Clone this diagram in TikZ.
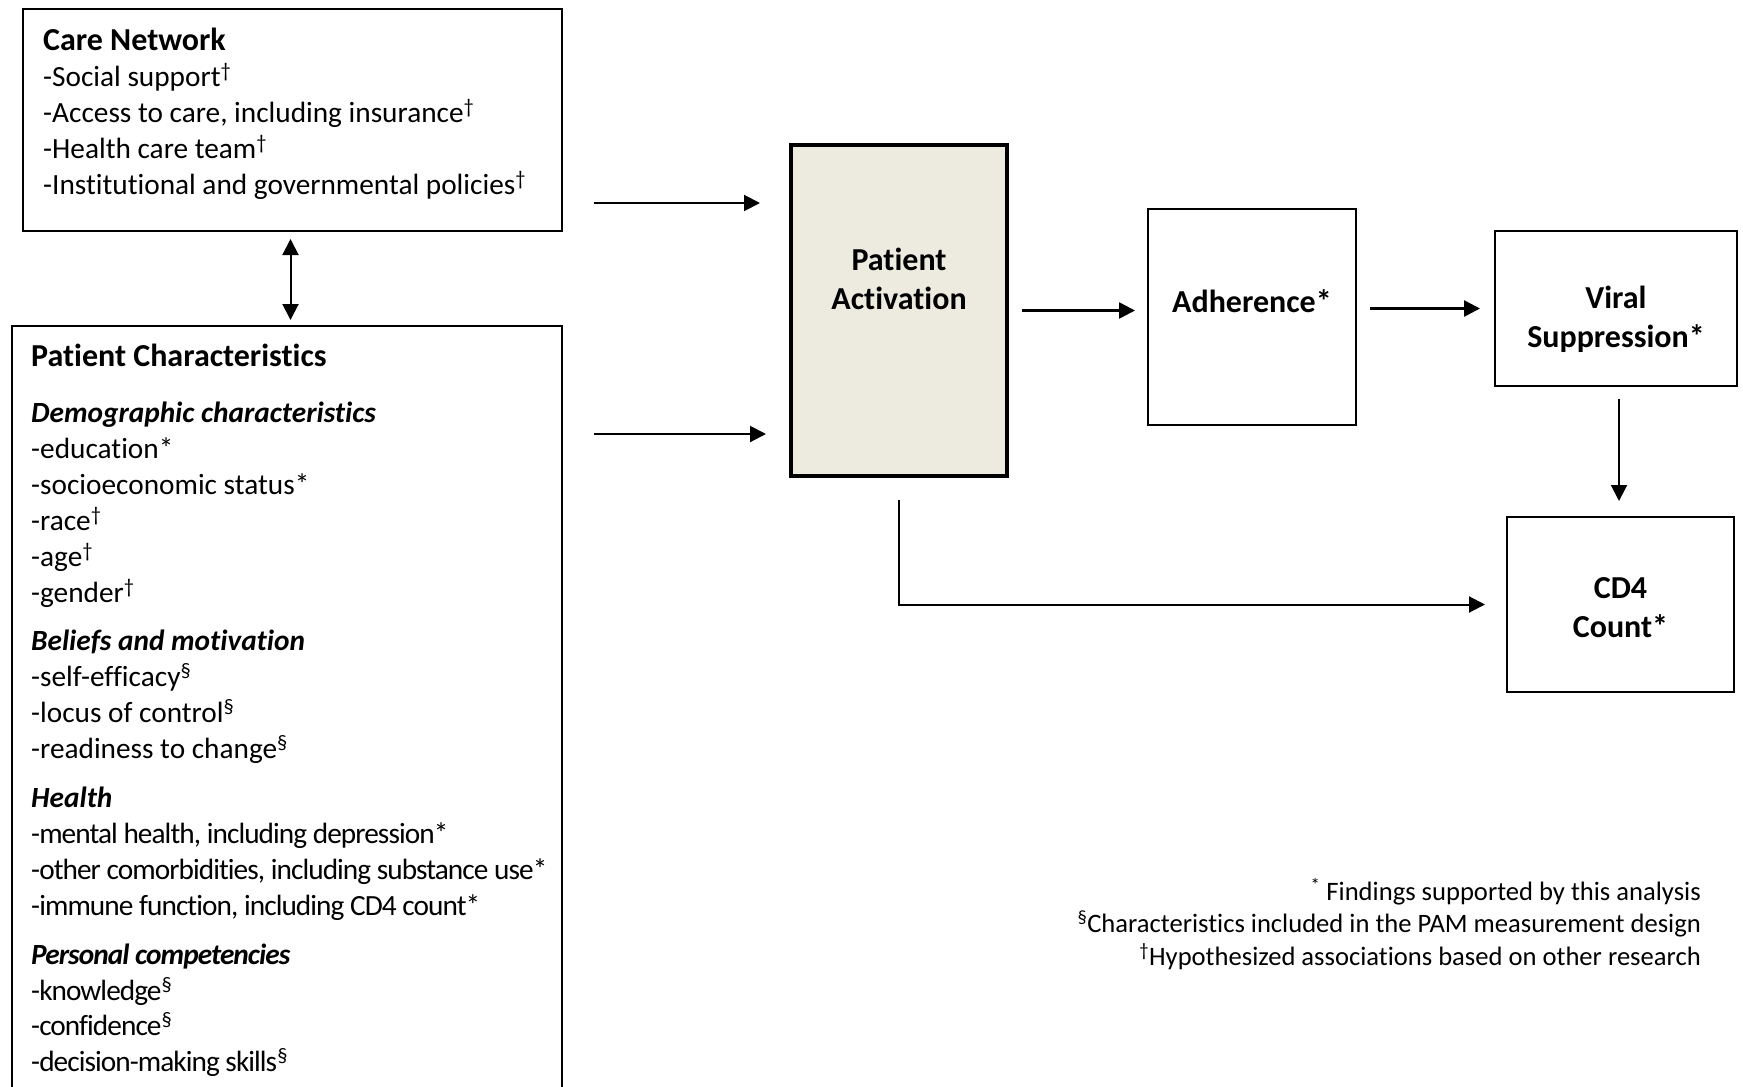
\documentclass[tikz,border=0pt]{standalone}
\usepackage{fontspec}
\setmainfont{Carlito}[Ligatures=NoCommon]
\usepackage{tikz}
\usetikzlibrary{positioning,arrows.meta,calc}
\definecolor{actfill}{HTML}{EDEBE0}
\newcommand\supdg{\textsuperscript{†}}
\newcommand\supsc{\textsuperscript{§}}
\newcommand\subhd[1]{\textbf{\textit{#1}}}
\newcommand\tight[1]{{\addfontfeature{LetterSpace=-3.2}#1}}

\begin{document}
\begin{tikzpicture}[x=1pt, y=-1pt,
  box/.style={draw, line width=2pt, inner sep=0pt, anchor=north west},
  actbox/.style={box, line width=4pt, fill=actfill},
  ttl/.style={font=\fontsize{32}{39}\selectfont\bfseries, align=center, inner sep=0pt},
  lst/.style={font=\fontsize{29.3}{35.9}\selectfont, align=left, anchor=north west, inner sep=0pt},
  note/.style={font=\fontsize{26.6}{32.5}\selectfont, align=right, anchor=east, inner sep=0pt},
  arr/.style={-{Triangle[length=16pt,width=16pt]}, line width=2pt},
  dbl/.style={{Triangle[length=16pt,width=16pt]}-{Triangle[length=16pt,width=16pt]}, line width=2pt}]
\fill[white] (0,0) rectangle (1743,1087);
\useasboundingbox (0,0) rectangle (1743,1087);
% boxes
\node[box, minimum width=539pt, minimum height=222pt] (care) at (22,8) {};
\node[box, minimum width=550pt, minimum height=820pt] (pc) at (11,325) {};
\node[actbox, minimum width=216pt, minimum height=331pt] (pa) at (789,143) {};
\node[box, minimum width=208pt, minimum height=216pt] (adh) at (1147,208) {};
\node[box, minimum width=242pt, minimum height=155pt] (viral) at (1494,230) {};
\node[box, minimum width=227pt, minimum height=175pt] (cd4) at (1506,516) {};
% texts
\node[lst] (care-txt) at (43,28) {{\fontsize{32}{39}\selectfont\bfseries Care Network}\\
  -Social support\supdg\\
  -Access to care, including insurance\supdg\\
  -Health care team\supdg\\
  -Institutional and governmental policies\supdg};
\node[lst] (pc-txt) at (31,344) {{\fontsize{32}{39}\selectfont\bfseries Patient Characteristics}\\[20pt]
  \subhd{Demographic characteristics}\\
  -education*\\
  -socioeconomic status*\\
  -race\supdg\\
  -age\supdg\\
  -gender\supdg\\[13pt]
  \subhd{Beliefs and motivation}\\
  -self-efficacy\supsc\\
  -locus of control\supsc\\
  -readiness to change\supsc\\[13pt]
  \subhd{Health}\\
  \tight{-mental health, including depression*}\\
  \tight{-other comorbidities, including substance use*}\\
  \tight{-immune function, including CD4 count*}\\[13pt]
  \tight{\subhd{Personal competencies}}\\
  \tight{-knowledge}\supsc\\
  \tight{-confidence}\supsc\\
  \tight{-decision-making skills}\supsc};
\node[ttl, yshift=32pt] (pa-txt) at (pa.center) {Patient\\Activation};
\node[ttl, yshift=16pt] (adh-txt) at (adh.center) {Adherence*};
\node[ttl, yshift=-11pt] (viral-txt) at (viral.center) {Viral\\Suppression*};
\node[ttl, yshift=-3pt] (cd4-txt) at (cd4.center) {CD4\\Count*};
\node[note] (legend) at (1701,924) {\textsuperscript{*} Findings supported by this analysis\\
  \textsuperscript{§}Characteristics included in the PAM measurement design\\
  \textsuperscript{†}Hypothesized associations based on other research};
% connectors
\draw[dbl, shorten <=7pt, shorten >=5pt] ([xshift=-2pt]care.south) -- ([xshift=-2pt]care.south |- pc.north);
\draw[arr, shorten <=31pt, shorten >=29pt] ([yshift=29pt]care.south east) -- ([yshift=29pt]care.south east -| pa.west);
\draw[arr, shorten <=31pt, shorten >=23pt] ([yshift=-109pt]pc.north east) -- ([yshift=-109pt]pc.north east -| pa.west);
\draw[arr, line width=2.6pt, shorten <=13pt, shorten >=12pt] (pa.east) -- (pa.east -| adh.west);
\draw[arr, line width=2.6pt, shorten <=13pt, shorten >=14pt] (adh.east |- viral.west) -- (viral.west);
\draw[arr, shorten <=12pt, shorten >=15pt] ([xshift=3pt]viral.south) -- ([xshift=3pt]viral.south |- cd4.north);
\draw[arr, shorten <=22pt, shorten >=21pt] (pa.south) |- (cd4.west);
\end{tikzpicture}
\end{document}
